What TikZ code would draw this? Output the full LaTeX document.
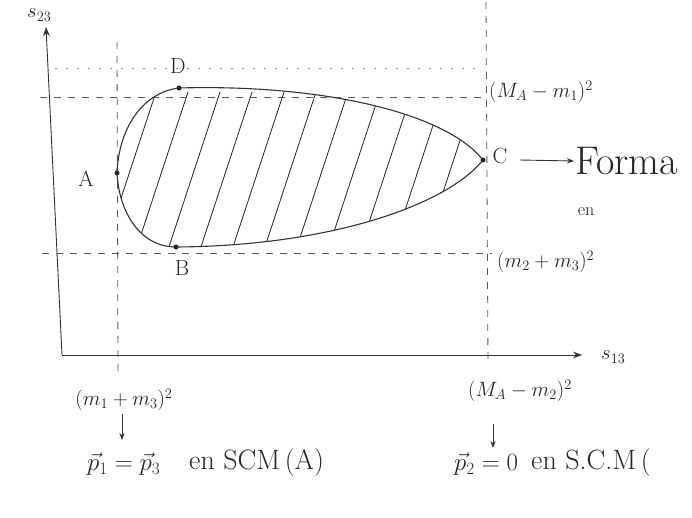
\documentclass[tikz,border=0pt]{standalone}
\usetikzlibrary{arrows.meta}
\newcommand{\fs}[1]{\fontsize{#1}{#1}\selectfont}
\begin{document}
\begin{tikzpicture}[x=1pt,y=-1pt,
  ink/.style={draw=black!80, line width=0.9pt},
  guide/.style={draw=black!65, line width=0.8pt, dash pattern=on 7pt off 7pt},
  faint/.style={draw=black!45, line width=0.6pt, dash pattern=on 2pt off 9pt},
  hatch/.style={draw=black!85, line width=0.8pt},
  lbl/.style={text=black!85, inner sep=1pt, font=\fs{22}},
  dot/.style={circle, fill=black!85, inner sep=0pt, minimum size=5pt}]
\useasboundingbox (0,0) rectangle (692,518);
\fill[white] (0,0) rectangle (692,518);

% axes
\coordinate (O) at (62,355);
\coordinate (Ytip) at (46,27);
\coordinate (Xtip) at (582,355);
\draw[ink, -{Stealth[length=9pt]}] (O) -- (Ytip);
\draw[ink, -{Stealth[length=9pt]}] (O) -- (Xtip);
\node[lbl, anchor=west] (s23) at (26,15) {$s_{23}$};
\node[lbl, anchor=west] (s13) at (600,357) {$s_{13}$};

% guide lines
\coordinate (L1) at (117,42);  \coordinate (L2) at (118,372);
\coordinate (R1) at (486,2);   \coordinate (R2) at (488,365);
\draw[guide] (L1) -- (L2);
\draw[guide] (R1) -- (R2);
\coordinate (T0) at (55,68);  \coordinate (T1) at (482,68);
\draw[faint] (T0) -- (T1);
\coordinate (U0) at (40,97);  \coordinate (U1) at (488,97);
\draw[guide] (U0) -- (U1);
\coordinate (V0) at (42,253); \coordinate (V1) at (492,253);
\draw[guide] (V0) -- (V1);

% Dalitz region
\coordinate (A) at (117,173);
\coordinate (D) at (179,88);
\coordinate (C) at (483,160);
\coordinate (B) at (176,247);
\def\region{(A) .. controls (119,125) and (145,92) .. (D)
  .. controls (320,84) and (445,112) .. (C)
  .. controls (447,205) and (330,246) .. (B)
  .. controls (140,247) and (119,212) .. (A) -- cycle}
\begin{scope}
  \clip \region;
  \foreach \x in {100,132,164,196,228,260,292,324,356,388,420,452}
    \draw[hatch] (\x,262) -- ++(56,-170);
\end{scope}
\draw[ink, line width=1.1pt] \region;
\foreach \p in {A,B,C,D} \node[dot] at (\p) {};
\node[lbl] (lA) at (86,179) {A};
\node[lbl] (lB) at (182,268) {B};
\node[lbl] (lC) at (500,156) {C};
\node[lbl] (lD) at (178,66) {D};

% right labels
\node[lbl, anchor=west] (mA1) at (488,92) {$(M_A-m_1)^2$};
\node[lbl, anchor=west] (m23) at (496,262) {$(m_2+m_3)^2$};
\coordinate (Cs) at (520,160);
\node[lbl, anchor=west, font=\fs{40}] (forma) at (574,161) {Forma};
\draw[ink, -{Stealth[length=7pt]}] (Cs) -- (forma.west);
\node[lbl, font=\fs{18}] (en) at (586,212) {en};

% bottom labels
\node[lbl] (m13) at (124,400) {$(m_1+m_3)^2$};
\node[lbl] (mA2) at (520,391) {$(M_A-m_2)^2$};
\node[lbl, anchor=west, font=\fs{24}] (p13) at (86,464) {$\vec{p}_1=\vec{p}_3$};
\node[lbl, anchor=west, font=\fs{28}] (scm) at (188,463) {en SCM\,(A)};
\node[lbl, anchor=west, font=\fs{24}] (p2) at (453,464) {$\vec{p}_2=0$};
\node[lbl, anchor=west, font=\fs{28}] (scm2) at (530,463) {en S.C.M\,(};
\draw[ink, -{Stealth[length=7pt]}] (122,414) -- (122,440);
\draw[ink, -{Stealth[length=7pt]}] (493,424) -- (493,448);
\end{tikzpicture}
\end{document}
